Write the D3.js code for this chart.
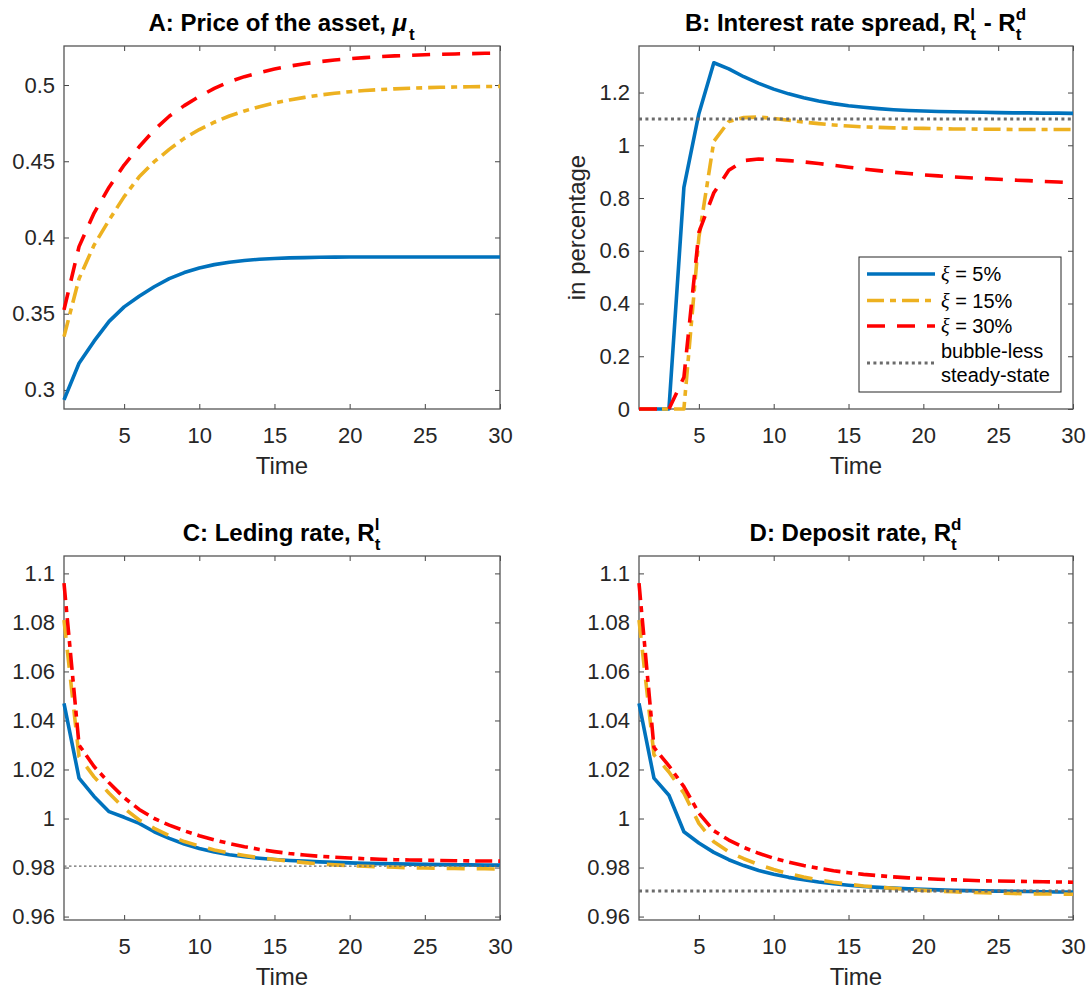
<!DOCTYPE html>
<html>
<head>
<meta charset="utf-8">
<script src="https://cdn.jsdelivr.net/npm/d3@7"></script>
<style>
  body { margin: 0; background: #fff; }
  svg { font-family: "Liberation Sans", Arial, sans-serif; }
</style>
</head>
<body>
<svg id="chart" width="1091" height="990"></svg>
<script>
// periods
const time = [1, 2, 3, 4, 5, 6, 7, 8, 9, 10, 11, 12, 13, 14, 15, 16, 17, 18, 19, 20, 21, 22, 23, 24, 25, 26, 27, 28, 29, 30]

// A: price of the asset
const priceXi5 = [0.2935, 0.3175, 0.332, 0.345, 0.3545, 0.3615, 0.3677, 0.373, 0.377, 0.38, 0.3822, 0.3838, 0.3849, 0.3857, 0.3862, 0.3866, 0.3868, 0.387, 0.3871, 0.3872, 0.3872, 0.3872, 0.3872, 0.3872, 0.3872, 0.3872, 0.3872, 0.3872, 0.3872, 0.3872]
const priceXi15 = [0.335, 0.373, 0.395, 0.4115, 0.4268, 0.4398, 0.4497, 0.4578, 0.465, 0.4708, 0.4756, 0.4797, 0.483, 0.4858, 0.4882, 0.4902, 0.4919, 0.4934, 0.4946, 0.4956, 0.4964, 0.497, 0.4975, 0.4979, 0.4982, 0.4985, 0.4987, 0.4989, 0.499, 0.4991]
const priceXi30 = [0.3525, 0.394, 0.416, 0.433, 0.4475, 0.4595, 0.4705, 0.4795, 0.4865, 0.4925, 0.4978, 0.5022, 0.5055, 0.5082, 0.5105, 0.5124, 0.514, 0.5153, 0.5164, 0.5173, 0.518, 0.5186, 0.5191, 0.5195, 0.5199, 0.5202, 0.5204, 0.5206, 0.5208, 0.521]

// B: spread (in percentage)
const spreadXi5 = [0, 0, 0, 0.84, 1.12, 1.313, 1.29, 1.26, 1.235, 1.213, 1.195, 1.18, 1.168, 1.158, 1.15, 1.144, 1.139, 1.135, 1.132, 1.13, 1.128, 1.127, 1.126, 1.125, 1.124, 1.123, 1.123, 1.122, 1.122, 1.121]
const spreadXi15 = [0, 0, 0, 0, 0.65, 1.015, 1.09, 1.105, 1.107, 1.102, 1.095, 1.088, 1.082, 1.077, 1.073, 1.07, 1.068, 1.066, 1.065, 1.064, 1.063, 1.062, 1.062, 1.061, 1.061, 1.06, 1.06, 1.06, 1.06, 1.06]
const spreadXi30 = [0, 0, 0, 0.12, 0.67, 0.82, 0.905, 0.942, 0.948, 0.946, 0.942, 0.937, 0.931, 0.924, 0.917, 0.91, 0.904, 0.898, 0.893, 0.888, 0.884, 0.88, 0.877, 0.874, 0.871, 0.868, 0.866, 0.863, 0.861, 0.858]
const spreadSteady = 1.1

// C: lending rate
const lendXi5 = [1.047, 1.0165, 1.009, 1.0028, 1.0005, 0.998, 0.9946, 0.9919, 0.9896, 0.9878, 0.9863, 0.9852, 0.9844, 0.9838, 0.9833, 0.9829, 0.9826, 0.9823, 0.9821, 0.9819, 0.9817, 0.9816, 0.9815, 0.9814, 0.9813, 0.9812, 0.9811, 0.9811, 0.981, 0.981]
const lendXi15 = [1.081, 1.0252, 1.017, 1.0103, 1.0042, 0.9994, 0.996, 0.993, 0.9906, 0.9888, 0.9872, 0.9859, 0.9849, 0.984, 0.9833, 0.9826, 0.982, 0.9815, 0.9811, 0.9808, 0.9805, 0.9803, 0.9801, 0.9799, 0.9798, 0.9797, 0.9796, 0.9795, 0.9795, 0.9794]
const lendXi30 = [1.096, 1.03, 1.0212, 1.0146, 1.0085, 1.0037, 1.0, 0.9973, 0.995, 0.993, 0.9913, 0.9898, 0.9885, 0.9874, 0.9865, 0.9857, 0.9851, 0.9846, 0.9842, 0.9839, 0.9836, 0.9834, 0.9832, 0.9831, 0.983, 0.9829, 0.9828, 0.9827, 0.9827, 0.9826]
const lendSteady = 0.9806

// D: deposit rate
const depXi5 = [1.047, 1.0165, 1.0095, 0.9946, 0.99, 0.9862, 0.9832, 0.9808, 0.9788, 0.9773, 0.976, 0.975, 0.9741, 0.9734, 0.9728, 0.9723, 0.9719, 0.9716, 0.9713, 0.9711, 0.9709, 0.9707, 0.9706, 0.9705, 0.9704, 0.9703, 0.9702, 0.9701, 0.97, 0.97]
const depXi15 = [1.081, 1.026, 1.019, 1.0103, 0.998, 0.9905, 0.9864, 0.9836, 0.9812, 0.9792, 0.9775, 0.9761, 0.975, 0.974, 0.9732, 0.9725, 0.972, 0.9715, 0.9711, 0.9707, 0.9704, 0.9701, 0.9699, 0.9697, 0.9696, 0.9694, 0.9693, 0.9692, 0.9692, 0.9691]
const depXi30 = [1.096, 1.029, 1.0215, 1.013, 1.0022, 0.995, 0.9912, 0.9882, 0.9858, 0.9838, 0.9822, 0.9808, 0.9797, 0.9787, 0.9779, 0.9772, 0.9767, 0.9762, 0.9758, 0.9755, 0.9752, 0.975, 0.9748, 0.9746, 0.9745, 0.9744, 0.9743, 0.9742, 0.9741, 0.974]
const depSteady = 0.9704

// ticks
const xTicks = [5, 10, 15, 20, 25, 30]
const priceTicks = [0.3, 0.35, 0.4, 0.45, 0.5]
const spreadTicks = [0, 0.2, 0.4, 0.6, 0.8, 1, 1.2]
const rateTicks = [0.96, 0.98, 1, 1.02, 1.04, 1.06, 1.08, 1.1]

const legendLabels = ['5%', '15%', '30%']

const BLUE = '#0072BD', YELLOW = '#EDB120', RED = '#FF0000', GREY = '#6b6b6b'
const DASH = '18,12', DASHDOT = '17,6,6,6'

const svg = d3.select('#chart')

const panels = [
  {
    box: [64, 46, 500, 409], yDomain: [0.2875, 0.5256], yTicks: priceTicks,
    title: ['A: Price of the asset, ', { text: 'μ', italic: true }, { sub: 't' }],
    series: [
      { values: priceXi5, color: BLUE, dash: null },
      { values: priceXi15, color: YELLOW, dash: DASHDOT },
      { values: priceXi30, color: RED, dash: DASH },
    ],
  },
  {
    box: [639, 46, 1073, 409], yDomain: [0, 1.3765], yTicks: spreadTicks,
    title: ['B: Interest rate spread, R', { sup: 'l', sub: 't' }, ' - R', { sup: 'd', sub: 't' }],
    ylabel: 'in percentage',
    series: [
      { values: spreadXi5, color: BLUE, dash: null },
      { values: spreadXi15, color: YELLOW, dash: DASHDOT },
      { values: spreadXi30, color: RED, dash: DASH },
    ],
    steady: spreadSteady, steadyWidth: 3, steadyDash: '3,3.4',
    legend: true,
  },
  {
    box: [64, 556, 500, 920], yDomain: [0.9586, 1.1071], yTicks: rateTicks,
    title: ['C: Leding rate, R', { sup: 'l', sub: 't' }],
    series: [
      { values: lendXi5, color: BLUE, dash: null },
      { values: lendXi15, color: YELLOW, dash: DASH },
      { values: lendXi30, color: RED, dash: DASHDOT },
    ],
    steady: lendSteady, steadyWidth: 1.3, steadyDash: '2.5,2.5',
  },
  {
    box: [639, 556, 1073, 920], yDomain: [0.9586, 1.1071], yTicks: rateTicks,
    title: ['D: Deposit rate, R', { sup: 'd', sub: 't' }],
    series: [
      { values: depXi5, color: BLUE, dash: null },
      { values: depXi15, color: YELLOW, dash: DASH },
      { values: depXi30, color: RED, dash: DASHDOT },
    ],
    steady: depSteady, steadyWidth: 3, steadyDash: '3,3.4',
  },
]

panels.forEach(drawPanel)

function drawPanel(p) {
  const [x0, y0, x1, y1] = p.box
  const x = d3.scaleLinear().domain([1, 30]).range([x0, x1])
  const y = d3.scaleLinear().domain(p.yDomain).range([y1, y0])
  const g = svg.append('g')

  // axes with inward ticks on all four sides
  const fmt = d3.format('~g')
  g.append('g').attr('transform', `translate(0,${y1})`)
    .call(d3.axisBottom(x).tickValues(xTicks).tickFormat(fmt).tickSizeInner(-5).tickSizeOuter(0).tickPadding(18))
  g.append('g').attr('transform', `translate(0,${y0})`)
    .call(d3.axisTop(x).tickValues(xTicks).tickFormat('').tickSizeInner(-5).tickSizeOuter(0))
  g.append('g').attr('transform', `translate(${x0},0)`)
    .call(d3.axisLeft(y).tickValues(p.yTicks).tickFormat(fmt).tickSizeInner(-5).tickSizeOuter(0).tickPadding(9))
  g.append('g').attr('transform', `translate(${x1},0)`)
    .call(d3.axisRight(y).tickValues(p.yTicks).tickFormat('').tickSizeInner(-5).tickSizeOuter(0))
  g.selectAll('.domain').remove()
  g.selectAll('.tick line').attr('stroke', '#444').attr('stroke-width', 1)
  g.selectAll('.tick text').attr('fill', '#262626').attr('font-size', 22).attr('font-family', null)

  g.append('rect')
    .attr('x', x0).attr('y', y0).attr('width', x1 - x0).attr('height', y1 - y0)
    .attr('fill', 'none').attr('stroke', '#555').attr('stroke-width', 1.3)

  const line = d3.line().x((d, i) => x(time[i])).y((d) => y(d))
  p.series.forEach((s) => {
    g.append('path')
      .attr('d', line(s.values))
      .attr('fill', 'none')
      .attr('stroke', s.color)
      .attr('stroke-width', 3.6)
      .attr('stroke-linejoin', 'round')
      .attr('stroke-dasharray', s.dash)
  })

  if (p.steady !== undefined) {
    g.append('line')
      .attr('x1', x0).attr('x2', x1)
      .attr('y1', y(p.steady)).attr('y2', y(p.steady))
      .attr('stroke', GREY)
      .attr('stroke-width', p.steadyWidth)
      .attr('stroke-dasharray', p.steadyDash)
  }

  // labels
  g.append('text')
    .attr('x', (x0 + x1) / 2).attr('y', y1 + 65)
    .attr('text-anchor', 'middle').attr('font-size', 24).attr('fill', '#262626')
    .text('Time')

  if (p.ylabel) {
    g.append('text')
      .attr('transform', `translate(${x0 - 54},${(y0 + y1) / 2}) rotate(-90)`)
      .attr('text-anchor', 'middle').attr('font-size', 24).attr('fill', '#262626')
      .text(p.ylabel)
  }

  drawTitle(g, p.title, (x0 + x1) / 2, y0 - 15)

  if (p.legend) drawLegend(g, p.series)
}

function drawTitle(g, parts, cx, base) {
  const t = g.append('g')
  let cur = 0
  parts.forEach((part) => {
    if (typeof part === 'string' || part.text) {
      const el = t.append('text')
        .attr('x', cur).attr('y', base)
        .attr('font-size', 24).attr('font-weight', 'bold').attr('fill', '#000')
        .style('font-style', part.italic ? 'italic' : null)
        .text((part.text || part).replace(/ /g, '\u00a0'))
      cur += el.node().getComputedTextLength() + (part.italic ? 2 : 0)
    } else {
      let w = 0
      if (part.sup) {
        const s = t.append('text').attr('x', cur).attr('y', base - 11)
          .attr('font-size', 17).attr('font-weight', 'bold').text(part.sup)
        w = Math.max(w, s.node().getComputedTextLength())
      }
      if (part.sub) {
        const s = t.append('text').attr('x', cur).attr('y', base + 9)
          .attr('font-size', 17).attr('font-weight', 'bold').text(part.sub)
        w = Math.max(w, s.node().getComputedTextLength())
      }
      cur += w + 1
    }
  })
  t.attr('transform', `translate(${cx - cur / 2},0)`)
}

function drawLegend(g, series) {
  const lg = g.append('g')
  lg.append('rect')
    .attr('x', 859).attr('y', 257).attr('width', 202).attr('height', 135)
    .attr('fill', '#fff').attr('stroke', '#262626').attr('stroke-width', 1)
  const rows = [274, 300.5, 326]
  series.forEach((s, i) => {
    lg.append('line')
      .attr('x1', 867).attr('x2', 935).attr('y1', rows[i]).attr('y2', rows[i])
      .attr('stroke', s.color).attr('stroke-width', 3.6)
      .attr('stroke-dasharray', s.dash)
    const tx = lg.append('text').attr('x', 941).attr('y', rows[i] + 7)
      .attr('font-size', 20).attr('fill', '#000')
    tx.append('tspan').attr('font-family', '"Liberation Serif", serif').style('font-style', 'italic').text('ξ')
    tx.append('tspan').text(` = ${legendLabels[i]}`)
  })
  lg.append('line')
    .attr('x1', 867).attr('x2', 935).attr('y1', 363).attr('y2', 363)
    .attr('stroke', GREY).attr('stroke-width', 3).attr('stroke-dasharray', '3,3.4')
  lg.append('text').attr('x', 941).attr('y', 358).attr('font-size', 20).text('bubble-less')
  lg.append('text').attr('x', 941).attr('y', 382).attr('font-size', 20).text('steady-state')
}
</script>
</body>
</html>
